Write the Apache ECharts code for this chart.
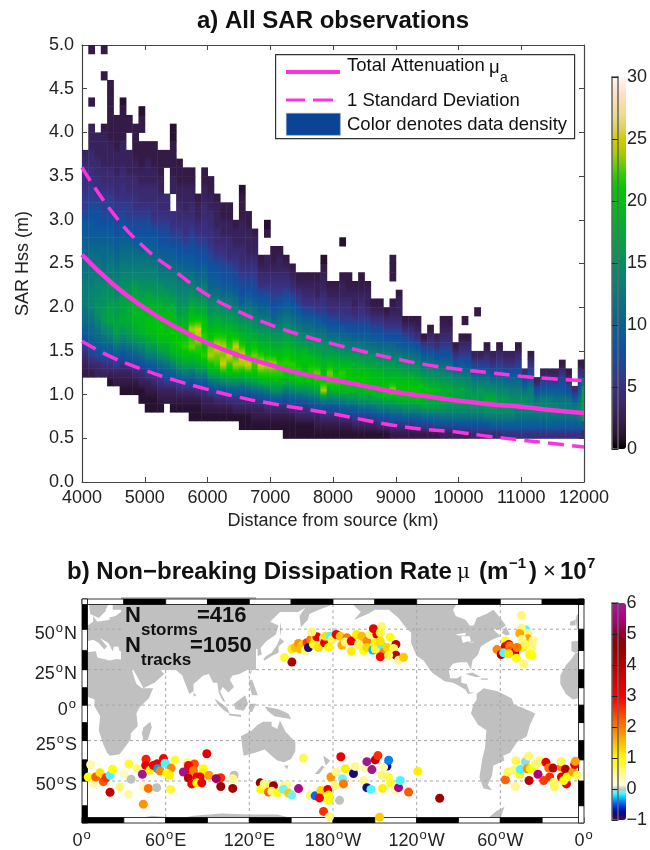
<!DOCTYPE html>
<html><head><meta charset="utf-8">
<style>html,body{margin:0;padding:0;background:#fff}#c{width:650px;height:850px}</style>
<script src="https://cdn.jsdelivr.net/npm/echarts@6/dist/echarts.min.js"></script>
</head><body><div id="c"></div>
<script>
// ---------- panel a data ----------
const curveDistance=[4000,4500,5000,5500,6000,6500,7000,7500,8000,8500,9000,9500,10000,10500,11000,11500,12000];
const muTotal=[2.6,2.26,1.99,1.77,1.59,1.45,1.34,1.24,1.17,1.1,1.03,.98,.93,.89,.86,.82,.79];
const muUpper=[3.6,3.07,2.68,2.4,2.14,1.95,1.8,1.68,1.58,1.49,1.41,1.34,1.29,1.25,1.21,1.18,1.16];
const muLower=[1.61,1.42,1.28,1.16,1.06,.97,.9,.84,.78,.71,.645,.6,.57,.52,.48,.44,.40];
// density by distance column (100 km bins from 4000): [bottom row in 0.1 m, values upward]
const densityColumns=[
[12,2,3,4,6,8,10,11,12,13,13,13,12,12,11,10,10,9,9,7,6,6,5,5,5,4,3],
[12,2,4,6,8,10,11,12,13,14,14,13,13,12,12,11,10,9,9,8,7,6,6,5,5,4,4,3,3,3,2,2,2],
[12,3,4,7,9,11,12,14,15,15,14,14,13,13,12,11,10,9,8,8,7,6,5,5,4,4,3,3,3,2,2,2,2,2,2],
[12,3,5,8,10,12,14,16,16,15,15,14,13,12,11,11,10,9,8,7,6,6,5,4,4,3,3,3,3,2,2,2,2,2,2,2],
[11,1,3,5,8,10,13,15,17,17,16,15,15,13,13,12,11,10,9,8,7,6,6,5,4,4,3,3,3,2,2,2,2,2,2,2],
[11,2,3,6,9,12,15,17,17,16,16,14,14,13,12,11,10,9,8,7,6,6,5,4,4,3,3,3,2,2,2,2],
[10,1,2,3,5,8,11,14,16,18,17,17,16,15,14,13,12,11,10,9,8,7,6,5,5,4,4,3,3,3,2,2,2,2,1],
[10,1,2,3,6,9,12,15,17,18,18,17,16,15,14,13,12,11,10,8,7,6,6,5,4,4,3,3,3,2,2,2,2],
[10,1,2,4,7,10,13,16,18,19,19,18,17,16,14,13,12,11,9,8,7,6,5,5,4,4,3,3,2,2,2,2],
[9,1,1,3,4,8,11,14,17,19,19,19,18,16,15,14,13,12,10,9,8,7,6,5,4,4,3,3,2,2,2],
[8,1,1,2,3,6,9,13,16,18,20,20,19,18,17,15,14,13,12,11,9,8,7,6,5,4,4,3,3,3,2,2],
[8,1,1,2,4,6,10,13,16,19,20,20,19,18,16,15,14,13,11,10,9,8,6,5,5,4,4,3,3,2,2,2],
[8,1,2,3,5,8,11,15,18,20,21,20,19,18,16,15,13,12,11,9,8,7,6,5,4,4,3,3,2,2,2],
[9,2,3,6,9,12,16,18,20,20,20,19,17,16,14,13,12,10,9,8,7,6,5,4,4,3,3,2,2,2],
[8,1,2,3,6,10,14,18,20,21,21,20,19,17,15,14,13,11,10,9,7,6,5,5,4,3,3,3,2,2],
[8,1,2,4,7,12,16,19,21,21,20,18,16,15,14,13,12,11,9,8,7,6,5,4,4,3,3,2,2,2],
[8,1,2,4,8,13,17,20,22,21,20,18,17,15,14,13,12,10,9,8,6,5,5,4,3,3,3,2,2],
[7,1,1,2,4,8,12,17,20,23,22,24,21,19,17,15,13,12,10,9,8,7,6,5,4,4,3,3,2,2],
[7,1,1,2,5,9,14,18,21,22,24,25,21,18,16,14,12,11,9,8,7,6,5,4,3,3,2],
[7,1,2,3,5,9,14,19,22,21,22,21,20,18,16,14,13,11,10,8,7,6,5,5,4,4,3,3,2,2],
[7,1,2,3,7,12,18,21,24,23,21,19,17,15,14,12,10,9,8,7,6,5,5,4,4,3,3,2,2],
[7,1,2,4,8,13,18,22,23,25,22,20,18,16,14,12,10,9,8,6,5,4,4,3,3,3,2],
[7,1,2,4,8,14,20,25,23,24,22,19,17,15,13,11,9,8,7,6,5,4,3,3,2,2],
[7,1,2,5,9,15,20,22,25,22,21,19,17,15,13,11,9,8,7,5,4,4,3,3,2,2],
[7,1,3,5,10,15,21,24,22,25,21,18,16,14,12,10,8,7,6,5,4,3,3,2],
[6,1,1,3,5,9,15,20,24,25,22,19,17,15,13,10,8,7,6,5,4,4,3,3,3,2,2,2,1],
[6,1,1,3,5,10,16,21,25,22,20,18,17,15,13,11,9,7,6,5,4,3,3,3,2,2],
[6,1,2,3,6,11,17,21,22,23,21,18,16,14,12,10,8,7,6,5,4,3,3,2],
[6,1,2,3,7,12,18,22,25,22,19,17,15,13,11,9,7,5,4,3,2],
[6,1,2,4,8,13,19,22,24,21,19,17,15,13,11,9,7,5,4,3,3],
[6,1,2,4,9,15,19,22,24,21,18,16,14,11,9,7,6,5,4,3,2,2],
[6,1,2,4,9,15,19,22,22,20,18,16,14,12,10,8,6,5,4,3,3,2],
[5,1,1,2,4,8,13,18,21,22,21,19,17,15,13,11,9,7,5,4,3,2],
[5,1,1,2,5,9,14,19,21,22,20,18,16,14,12,10,8,6,4,3,2],
[5,1,1,3,5,9,15,20,22,21,19,17,15,13,11,9,6,5,3,2],
[5,1,1,3,5,10,15,20,21,20,20,17,14,12,10,7,5,4,3,2],
[5,1,1,3,6,11,16,20,22,21,19,16,14,12,10,7,5,4,3,2],
[5,1,2,3,7,12,17,21,23,20,18,16,13,11,9,6,5,3,3,2],
[5,1,2,4,8,14,24,21,20,19,17,15,13,11,8,6,5,4,3,3,2],
[5,1,2,4,8,13,18,22,23,20,17,15,12,9,7,5,4,3,2],
[5,1,2,4,8,14,19,22,21,19,17,14,12,9,7,5,4,3,2],
[5,1,2,5,9,14,19,21,22,19,16,14,11,9,6,5,4,3,3,2],
[5,1,2,5,10,15,19,21,21,19,16,13,11,8,6,5,4,3,2,2],
[5,1,3,6,10,15,19,21,20,18,16,13,10,8,6,4,3,3,2],
[5,1,3,6,11,16,19,21,20,18,15,13,10,8,6,5,4,3,2,2],
[5,1,3,6,11,16,20,21,20,17,15,12,10,8,6,4,3,3,2],
[5,1,3,7,12,17,20,20,19,17,14,12,9,7,5,3,2],
[5,1,4,8,13,17,20,20,19,16,14,11,9,7,5,3,2],
[5,1,4,8,13,18,21,20,18,16,14,11,8,6,4,2],
[5,2,5,9,14,18,24,20,18,16,13,11,8,6,4,3,2],
[5,2,5,9,14,19,21,20,18,15,13,10,8,6,4,3,3,2],
[5,2,5,10,15,19,21,20,17,15,12,9,7,4,2],
[5,2,5,10,15,19,21,20,17,14,12,9,6,4,2],
[5,2,6,10,15,20,21,19,16,14,11,8,5,3,2],
[5,2,6,11,16,19,20,18,15,12,9,6,2],
[5,2,6,11,16,18,20,17,15,12,9,6,4,2],
[5,2,7,11,16,18,19,17,14,11,8,5,3],
[5,3,7,12,16,18,18,16,14,11,8,6,4,3,2],
[5,3,7,12,15,17,18,16,13,11,8,6,4,3,2],
[5,3,7,12,15,17,17,15,12,8,5,2],
[5,3,8,12,15,17,17,15,12,9,6,4,2],
[5,3,8,12,15,16,16,14,12,8,6,4,2],
[5,4,8,12,15,17,15,13,9,6,3],
[5,4,8,12,15,16,16,13,9,6,3],
[5,4,8,13,16,18,15,13,10,6,4,2],
[5,4,9,13,16,18,15,12,8,5,3],
[5,4,9,13,15,16,14,12,9,6,4,2],
[5,5,9,13,15,16,14,11,8,5,3],
[5,5,9,13,15,15,13,11,8,5,3],
[5,5,9,12,14,15,13,11,8,6,4,2],
[5,5,9,12,14,15,12,8,4],
[5,5,9,12,14,14,13,10,7,5,2],
[5,5,9,12,14,12,8,3],
[5,5,9,12,14,13,9,6,3],
[5,5,10,12,14,13,9,6,3],
[5,5,9,12,14,12,9,6,3],
[5,5,9,12,13,12,9,7,5,2],
[5,5,9,12,13,12,8,5,2],
[5,5,9,12,13,9,4],
[5,5,10,13,14,12,9,7,5,2]];
const densityHoles=[[4100,41],[4100,42],[4200,40],[4200,41],[4200,42],[4200,43],[4200,44],[4200,45],[4300,41],[4300,42],[4300,43],[4300,44],[4300,45],[4700,38],[4700,39],[5300,33],[5300,34],[5300,35],[5400,31],[5400,32]];
const densityIslands=[[4100,49,2],[4300,49,2],[4900,40,2],[4900,41,2],[4900,42,1],[5400,37,2],[5400,38,2],[5400,39,1],[5400,40,1],[6900,28,2],[6900,29,1],[7800,25,1],[8100,27,1],[8900,23,2],[8900,24,2],[8900,25,2],[10050,18,2],[10250,19,2]];
const edgeColumnX=11960;
const edgeColumn=[5,4,9,16,17,17,16,12,5,2];
const densityTicks=[0,5,10,15,20,25,30];
const densityColors=['#000000','#26122e','#341a46','#38225c','#3a2a70','#38307f','#2e3c90','#1a4a98','#0f50a0','#0c5a9c','#0b6090','#0b6a88','#0a7280','#0a7c78','#088570','#069060','#049a50','#02a440','#00ae30','#00b820','#00c010','#00c800','#28cc00','#70cc00','#b0cc00','#d2cc00','#e0d268','#eedc90','#fadcb0','#ffe4d4','#fff8f4'];
// ---------- panel b data ----------
const dissipationColors=['#4a0a5e','#1e0a70','#0a0a90','#0020d0','#0050f0','#0090ff','#00d8ff','#60ffff','#c0c0c0','#fffde0','#fffbc8','#fff9b0','#fff890','#fff870','#fff840','#fff820','#ffff00','#ffec00','#ffdc00','#ffcc00','#ffbc00','#ffaa00','#ff9a00','#ff8800','#ff7800','#ff6c00','#ff5c00','#ff4c00','#ff3a00','#ff2800','#ff1400','#ff0800','#f80000','#f00000','#e80000','#e00000','#d80000','#d00000','#c80000','#c00000','#b80000','#b00000','#a80000','#a00000','#980000','#900000','#8c0010','#8c0020','#900030','#980048','#a00060','#a80070','#b00080','#b00088','#a81088','#a01888','#982090'];
const dissipationTicks=[-1,0,1,2,3,4,5,6];
const gridLons=[60,120,180,240,300];
const gridLats=[50,25,0,-25,-50];
const lonLabels=['0','60|E','120|E','180|W','120|W','60|W','0'];
const latLabels=[[50,'50','N'],[25,'25','N'],[0,'0',''],[-25,'25','S'],[-50,'50','S']];
const lonFrame=[0,30,60,90,120,150,180,210,240,270,300,330,360];
const latFrame=[-70,-62.5,-50,-37.5,-25,-12.5,0,12.5,25,37.5,50,62.5,65];
const dotsSouth=[[6.2,-40.6,.4],[4.5,-47.8,1],[8.1,-51.6,.4],[9.8,-47.8,2.2],[12.9,-45.3,1.2],[15.3,-50.3,2.3],[17.2,-48.2,2.6],[20.1,-46.8,-.15],[22,-43.3,1],[20.1,-56,3.8],[27.3,-53.2,.6],[30.1,-45.8,.3],[33.7,-40.1,.8],[35.2,-49.1,0],[33.3,-57,.4],[39.7,-43,.6],[43.3,-46.2,5.9],[45.9,-37.2,2.7],[45.7,-41,3.3],[48.8,-43.9,1.1],[44,-53,.3],[47.6,-54,2.1],[53.6,-53.6,0],[44,-61.8,1.8],[51.2,-41,3.2],[54,-40,3.1],[58.4,-36.8,3],[54.3,-43,-.35],[56,-44.3,1.9],[59.6,-39.7,-.15],[63.9,-42.6,1.9],[66.7,-37.6,.8],[60.8,-45.8,1],[62.7,-46.8,1.1],[63.6,-54.5,.8],[75.6,-39.1,.5],[80.6,-40.1,2.4],[76.3,-41,3],[76.3,-43.3,3.2],[72.7,-44.9,5.8],[79.9,-44,2],[76.3,-48.3,3.9],[89.5,-33.7,3.3],[87.1,-43,1],[86.6,-45.5,1.1],[82.3,-47.8,3],[84.7,-47.8,3.1],[78.7,-51.6,3],[82.3,-51,1],[85.9,-51,3.2],[91.1,-46.8,1.7],[99.5,-48.2,2.6],[96.2,-48.7,5.3],[99.5,-53,4.3],[108.1,-54,4.3],[109.1,-46.8,0],[108.1,-48.7,.5],[127.8,-51,4.6],[128.2,-54.5,1],[130.6,-51.6,.5],[134.4,-53,.7],[133.7,-55.9,2.2],[137.3,-52.6,4.4],[136.1,-55.5,.6],[140.2,-56.4,.9],[145,-52.6,.5],[146.9,-52.2,.5],[144.5,-54.5,-.1],[148.1,-56.4,1.4],[150.5,-57.4,-.1],[155.3,-54.1,5.7],[158.9,-36.6,.7],[163.6,-57.6,.6],[167.2,-57.8,-.45],[171.3,-55.1,1.3],[170.3,-58.8,3],[176.3,-54.5,3.3],[176.8,-57.4,1],[176.8,-60,1],[173.2,-65.1,2.6],[177.5,-67.4,.6],[178.5,-47.8,1.8],[181.6,-52.6,.6],[182.3,-44.9,.5],[185.6,-35.6,3.2],[188.8,-43,1.1],[194.7,-45.8,-.85],[195.9,-41.6,.5],[186.8,-48.7,-.1],[187.5,-51.6,2],[184.7,-60,0],
[202,-49.7,.5],[203.1,-42.6,.4],[204.3,-38.7,5.9],[207.9,-43.5,5.9],[210.3,-37.6,3.8],[212.2,-34.9,2.6],[204.3,-53.6,-.8],[207.2,-54.5,-.15],[215.5,-54,1.1],[215.1,-46.8,.6],[218.7,-41.4,-.8],[216.3,-42,.4],[219.9,-37.8,-.4],[219.9,-47.8,.7],[221.1,-51,.8],[224.6,-55,.4],[227,-53.6,5.5],[228.2,-49.7,-.15],[234.2,-55.9,2.3],[240.9,-44.5,1.1],[213.4,-67.6,1.4],[256.5,-59,4.4],[303.6,-49.3,2.2],[305.5,-44.9,.7],[309.6,-43.9,.6],[310.8,-53,.5],[311.2,-38.1,.7],[313.9,-46.2,.9],[314.4,-43.3,-.15],[318,-38.7,-.05],[320.3,-35.2,.6],[319.2,-43,1.8],[320.6,-49.7,3.9],[321.5,-43,1.1],[323.9,-42.6,1],[325.1,-40.1,.6],[328.2,-38.1,.6],[332.7,-39.1,3.2],[327,-46.2,5.5],[331.1,-49.7,2.5],[335.4,-47.8,2.6],[334.7,-42.6,2.1],[337.8,-42.6,3.9],[343.8,-42,2],[343.6,-38.7,.7],[346.7,-43.3,4.2],[338.3,-50.7,.6],[338.8,-53,.7],[343.8,-47.8,3.2],[347.4,-51.6,3.3],[347.9,-47.8,1],[345.5,-49.7,1],[352,-44.9,1.7],[353.3,-40.4,3],[353.8,-38.5,1.7],[355,-46.8,.7]];
const dotsNorthAtlantic=[[315.1,57.2,.6],[318.4,49.5,-.15],[315.1,50.5,.6],[319.6,47.6,.6],[313.9,47.6,1.6],[319.8,44.5,1.7],[323.5,43.5,.5],[315.5,44.1,.5],[303.6,43.2,1],[306,41.2,3.7],[303.6,39.9,3.2],[306.7,40.3,2],[297.6,38,1.9],[300.6,34.9,4],[302.4,36,-.15],[307.2,37,2.3],[310.3,36.4,3.3],[316,39.3,1.1],[322.7,39.3,.6],[312,39.3,2],[318,41.2,.7],[322.7,34.5,1],[321,34.9,1],[311.5,32.6,1],[316.7,28.7,.6],[306,35.4,1.2]];
const dotsNorthPacific=[[150.5,30.1,4.2],[145.2,33,.8],[150.5,38.4,1.1],[152.9,39.3,1.5],[155.3,41.8,1.8],[157.2,40.3,1.5],[158.8,41.2,1.3],[156.5,38.4,1.5],[160,37.4,.6],[161.3,42.2,2.5],[162.4,39.3,-.85],[164.1,44.1,2],[166,41.2,1],[167.2,44.1,.9],[168.4,45.7,3.2],[169.6,39.3,1.2],[164.8,48.4,.6],[173.2,45,.5],[173.9,42.2,3.3],[174.6,46,1.2],[178,46,-.15],[179.2,43.8,.7],[176.8,39.3,1],[182.3,47,3.1],[185.2,46,1.4],[186.4,40.7,1.6],[190,45.1,2],[188.8,42.6,.6],[193.1,43.2,3.2],[196.9,47,1.1],[193.1,37,1.1],[198.3,41.2,.7],[200.7,46,1.5],[201.9,37.4,1],[204.3,43.2,1.9],[204.3,39.3,1.3],[206.7,47,.6],[209,50.3,3.2],[211.5,47,3.3],[215,51.5,.6],[213.9,48,.8],[210.3,42.2,1.1],[208.6,37.8,-.3],[210.3,38.4,.8],[215,40.7,-.15],[213.9,43.2,1.2],[216.3,36.4,1.9],[213.9,33.5,2.9],[218.7,39.3,1.3],[221,45.5,1],[225.1,41.2,3.9],[223.5,38.7,.7],[225.1,34.5,4],[219.9,34.5,.7],[227.1,31.2,.5],[230.6,33.2,1.4]];
const landPolygons=[
[[-17,15],[-17,21],[-13,28],[-9,32],[-6,36],[0,36],[10,37],[11,33],[20,31],[25,32],[33,31],[35,28],[37,21],[39,15],[43,12],[51,12],[48,5],[41,-2],[39,-6],[40,-15],[35,-20],[35,-24],[32,-28],[27,-34],[20,-35],[18,-33],[15,-27],[12,-18],[13,-8],[9,-1],[9,4],[4,6],[-4,5],[-8,4],[-13,8]],
[[44,-16],[49,-12],[50,-16],[47,-25],[44,-25],[43,-20]],
[[-9,37],[-9,43],[-2,43.5],[-1,46],[-4,48],[2,51],[8,54],[8,57],[11,54],[20,55],[18,60],[12,56],[6,58],[5,62],[12,66],[40,66],[60,70],[180,70],[180,65],[178,62],[170,60],[163,58],[162,55],[157,51],[156,57],[160,61],[155,59],[142,59],[135,54],[141,52],[139,47],[132,43],[128,39],[129,35],[126,34],[126,38],[122,40],[118,39],[122,37],[120,34],[122,30],[119,25],[113,22],[108,21],[106,18],[109,13],[105,9],[101,13],[99,10],[103,2],[101,3],[98,9],[97,16],[94,16],[91,22],[87,21],[80,15],[80,10],[77,8],[73,18],[72,21],[67,25],[57,25],[56,27],[50,30],[48,30],[51,25],[56,25],[59,22],[52,16],[44,12],[42,16],[35,28],[35,36],[27,37],[26,40],[23,40],[22,37],[19,42],[13,45],[18,40],[16,38],[12,42],[8,44],[3,43],[0,39],[-2,37],[-6,36]],
[[-5,50],[1,51],[-2,56],[-5,58],[-6,55]],[[-10,52],[-6,52],[-6,55],[-10,54]],[[80,9],[82,7],[80,6]],
[[95,5],[104,-2],[106,-6],[102,-4],[97,1]],[[105,-6],[114,-7],[114,-8.5],[106,-7.5]],[[109,1],[117,7],[119,1],[116,-4],[110,-3]],[[120,1],[125,1],[122,-5],[120,-5]],[[131,-1],[141,-3],[148,-6],[150,-10],[143,-9],[138,-8],[133,-4]],[[120,18],[122,18],[124,13],[126,7],[122,7],[120,14]],[[120,23],[122,25],[121,22]],[[130,32],[132,34],[136,36],[140,41],[142,45],[145,43],[141,40],[141,36],[136,34],[131,31]],[[142,54],[143,50],[142,46]],
[[114,-22],[122,-18],[126,-14],[130,-12],[136,-12],[136,-15],[140,-17],[142,-11],[146,-19],[153,-26],[153,-32],[150,-37],[145,-39],[140,-38],[136,-35],[131,-31],[124,-33],[116,-35],[115,-30]],[[145,-41],[148,-41],[147,-43.5]],[[173,-35],[178,-38],[175,-41],[174,-39]],[[172,-41],[174,-42],[170,-46],[167,-46]],
[[-180,-78],[-150,-77],[-130,-74],[-100,-73],[-75,-71],[-63,-65],[-57,-63],[-60,-68],[-60,-75],[-40,-78],[-20,-72],[0,-70],[30,-69.5],[50,-67],[70,-68],[80,-67],[100,-66],[120,-66.5],[140,-66.5],[165,-70],[170,-72],[180,-78],[180,-90],[-180,-90]],
[[-170,66],[-165,62],[-160,59],[-165,55],[-155,58],[-150,60],[-140,60],[-133,56],[-128,51],[-124,48],[-124,42],[-120,34],[-115,31],[-112,27],[-109,23],[-106,21],[-100,17],[-94,16],[-90,14],[-85,11],[-83,8],[-78,9],[-82,9],[-84,15],[-88,16],[-88,21],[-91,19],[-96,19],[-97,25],[-94,29],[-89,30],[-84,30],[-81,25],[-80,31],[-76,35],[-74,40],[-70,42],[-66,44],[-60,46],[-65,50],[-60,50],[-56,52],[-60,56],[-65,60],[-70,58],[-77,56],[-79,52],[-82,52],[-85,55],[-92,57],[-94,60],[-88,66]],
[[-85,22],[-80,23],[-74,20],[-78,20]],[[-74,19],[-69,19],[-69,18],[-74,18]],[[-59,48],[-56,51.5],[-53,47],[-56,46.5]],
[[-77,8],[-72,12],[-62,10],[-52,5],[-50,0],[-44,-2],[-35,-6],[-39,-15],[-41,-22],[-48,-26],[-53,-33],[-58,-35],[-57,-38],[-65,-41],[-66,-47],[-69,-52],[-66,-55],[-72,-54],[-75,-48],[-73,-37],[-71,-30],[-70,-18],[-76,-14],[-81,-6],[-80,-2],[-79,1],[-77,4]]];
const inlandSeas=[[[18,56],[24,57],[30,60],[22,60],[22,64],[20,64],[17,60]],[[-92,47],[-85,48],[-85,46.5],[-90,46.5]],[[-88,46],[-82,46],[-81,43],[-84,43],[-87,42]],[[-83,42],[-79,43],[-79,42.5]]];

// ---------- helpers ----------
const miller=lat=>1.25*Math.log(Math.tan(Math.PI/4+0.4*lat*Math.PI/180));
const FONT='"Liberation Sans",Arial,sans-serif';
const INK='#222';
const AXIS='#444';
const LAND='#c0c0c0';
const MAGENTA='#ff33dd';

const key=(x,r)=>x+'_'+r;
const holeSet=new Set(densityHoles.map(h=>key(h[0],h[1])));
const densityCells=[];
densityColumns.forEach((col,i)=>{
  const x=4000+i*100,vals=col.slice(1);
  vals.forEach((v,j)=>{
    const r=col[0]+j;
    if(holeSet.has(key(x,r))) return;
    const below=(j>0&&!holeSet.has(key(x,r-1)))?vals[j-1]:v;
    const above=(j<vals.length-1&&!holeSet.has(key(x,r+1)))?vals[j+1]:v;
    densityCells.push([x,r/10,v,below,above]);
  });
});
densityIslands.forEach(c=>densityCells.push([c[0],c[1]/10,c[2],c[2],c[2]]));
edgeColumn.slice(1).forEach((v,j)=>densityCells.push([edgeColumnX,(edgeColumn[0]+j)/10,v,v,v]));

const hex=c=>[parseInt(c.slice(1,3),16),parseInt(c.slice(3,5),16),parseInt(c.slice(5,7),16)];
const densityRgb=densityColors.map(hex);
const densityColor=v=>{const i=Math.min(29,Math.floor(v)),t=v-i,a=densityRgb[i],b=densityRgb[i+1];
  return 'rgb('+a.map((c,k)=>Math.round(c+(b[k]-c)*t)).join(',')+')';};

const allDots=dotsSouth.concat(dotsNorthAtlantic,dotsNorthPacific).map(d=>[d[0],miller(d[1]),d[2]]);
const polys=[];
landPolygons.forEach(p=>{polys.push({p,off:0,fill:LAND});polys.push({p,off:360,fill:LAND});});
inlandSeas.forEach(p=>{polys.push({p,off:0,fill:'#fff'});polys.push({p,off:360,fill:'#fff'});});

const gridSegments=gridLons.map(l=>[l,miller(-70),l,miller(65)]).concat(gridLats.map(l=>[0,miller(l),360,miller(l)]));
const frameSegs=[];
lonFrame.slice(0,-1).forEach((a,i)=>{frameSegs.push(['b',a,lonFrame[i+1],i%2===0]);frameSegs.push(['t',a,lonFrame[i+1],i%2===1]);});
latFrame.slice(0,-1).forEach((a,i)=>{frameSegs.push(['l',a,latFrame[i+1],i%2===0]);frameSegs.push(['r',a,latFrame[i+1],i%2===1]);});

const supRich={a:{fontSize:18,fontFamily:FONT,color:INK,verticalAlign:'bottom',lineHeight:21},o:{fontSize:13,fontFamily:FONT,color:INK,verticalAlign:'top',lineHeight:21,padding:[0,1,6,1]}};
const commonX={axisTick:{show:false},axisLabel:{show:false},splitLine:{show:false}};

const axisBase=(extra)=>Object.assign({type:'value',axisLine:{onZero:false,lineStyle:{color:AXIS,width:1.2}},splitLine:{show:false},axisTick:{inside:true,length:5,lineStyle:{color:AXIS}},axisLabel:{color:INK,fontFamily:FONT,fontSize:18,margin:7},nameTextStyle:{color:INK,fontFamily:FONT,fontSize:18}},extra);
const barLine={onZero:false,lineStyle:{color:'#666',width:1.5}};
const barTick={inside:true,length:3,lineStyle:{color:'#222'}};

const text=(left,top,t,size,weight)=>({type:'text',left,top,z:6,style:{text:t,fontFamily:FONT,fontSize:size,fontWeight:weight||'normal',fill:'#111'}});

const chart=echarts.init(document.getElementById('c'),null,{width:650,height:850});
chart.setOption({
  animation:false,backgroundColor:'#fff',
  grid:[
    {left:82,top:45,width:502,height:437},
    {left:612,top:77,width:14,height:372},
    {left:82,top:599,width:502,height:225},
    {left:612,top:603,width:14,height:217}
  ],
  xAxis:[
    axisBase({gridIndex:0,position:'bottom',min:4000,max:12000,interval:1000,name:'Distance from source (km)',nameLocation:'middle',nameGap:29,axisLabel:{color:INK,fontFamily:FONT,fontSize:18,margin:7,formatter:v=>String(v)}}),
    axisBase({gridIndex:0,position:'top',min:4000,max:12000,interval:1000,axisLabel:{show:false}}),
    axisBase(Object.assign({gridIndex:1,position:'bottom',min:0,max:1,z:6},commonX,{axisLine:barLine})),
    axisBase({gridIndex:2,position:'bottom',min:0,max:360,interval:60,axisLine:{show:false},axisTick:{show:false},
      axisLabel:{margin:6,showMinLabel:true,showMaxLabel:true,rich:supRich,formatter:v=>{const p=lonLabels[v/60].split('|');return '{a|'+p[0]+'}{o|o}'+(p[1]?'{a|'+p[1]+'}':'');}}}),
    axisBase(Object.assign({gridIndex:3,position:'bottom',min:0,max:1,z:6},commonX,{axisLine:barLine})),
    axisBase(Object.assign({gridIndex:1,position:'top',min:0,max:1,z:6},commonX,{axisLine:barLine})),
    axisBase(Object.assign({gridIndex:3,position:'top',min:0,max:1,z:6},commonX,{axisLine:barLine}))
  ],
  yAxis:[
    axisBase({gridIndex:0,position:'left',min:0,max:5,interval:.5,name:'SAR Hss (m)',nameLocation:'middle',nameGap:50,axisLabel:{formatter:v=>v.toFixed(1),color:INK,fontFamily:FONT,fontSize:18,margin:8}}),
    axisBase({gridIndex:0,position:'right',min:0,max:5,interval:.5,axisLabel:{show:false}}),
    axisBase({gridIndex:1,position:'right',min:0,max:30,interval:5,z:6,axisTick:barTick,axisLine:barLine,axisLabel:{margin:9,color:INK,fontFamily:FONT,fontSize:18}}),
    axisBase({gridIndex:1,position:'left',min:0,max:30,interval:5,z:6,axisTick:barTick,axisLine:barLine,axisLabel:{show:false}}),
    axisBase({gridIndex:2,position:'left',min:miller(-70),max:miller(65),axisLine:{show:false},axisTick:{show:false},
      axisLabel:{margin:5,padding:[6,0,0,0],customValues:latLabels.map(l=>miller(l[0])),rich:supRich,formatter:v=>{const l=latLabels.find(q=>Math.abs(miller(q[0])-v)<1e-6);return l?'{a|'+l[1]+'}{o|o}'+(l[2]?'{a|'+l[2]+'}':''):'';}}}),
    axisBase({gridIndex:3,position:'right',min:-1,max:6,interval:1,z:6,axisTick:barTick,axisLine:barLine,axisLabel:{margin:9,color:INK,fontFamily:FONT,fontSize:18,formatter:v=>v<0?'\u2212'+(-v):''+v}}),
    axisBase({gridIndex:3,position:'left',min:-1,max:6,interval:1,z:6,axisTick:barTick,axisLine:barLine,axisLabel:{show:false}})
  ],
  visualMap:[
    {type:'continuous',seriesIndex:0,dimension:2,min:0,max:30,left:612,top:77,itemWidth:14,itemHeight:372,padding:0,text:null,showLabel:false,calculable:false,hoverLink:false,realtime:false,inRange:{color:densityColors},textStyle:{color:'rgba(0,0,0,0)'}},
    {type:'continuous',seriesIndex:7,dimension:2,min:-1,max:6,left:612,top:603,itemWidth:14,itemHeight:217,padding:0,text:null,showLabel:false,calculable:false,hoverLink:false,realtime:false,inRange:{color:dissipationColors},textStyle:{color:'rgba(0,0,0,0)'}}
  ],
  series:[
    {type:'custom',name:'density',xAxisIndex:0,yAxisIndex:0,clip:true,silent:true,z:1,encode:{x:0,y:1},data:densityCells,
      renderItem:(params,api)=>{
        const v=api.value(2),lo=api.value(3),hi=api.value(4);
        const a=api.coord([api.value(0),api.value(1)+.1]),b=api.coord([api.value(0)+100,api.value(1)]);
        return {type:'rect',shape:{x:a[0],y:a[1],width:b[0]-a[0]+.5,height:b[1]-a[1]+.5},
          style:{fill:new echarts.graphic.LinearGradient(0,1,0,0,[{offset:0,color:densityColor((lo+v)/2)},{offset:.5,color:densityColor(v)},{offset:1,color:densityColor((hi+v)/2)}])}};
      }},
    {type:'line',name:'Total Attenuation',xAxisIndex:0,yAxisIndex:0,smooth:true,symbol:'none',z:3,lineStyle:{color:MAGENTA,width:4.5},data:curveDistance.map((x,i)=>[x,muTotal[i]])},
    {type:'line',name:'1 Standard Deviation',xAxisIndex:0,yAxisIndex:0,smooth:true,symbol:'none',z:3,lineStyle:{color:MAGENTA,width:3.5,type:[16,8]},data:curveDistance.map((x,i)=>[x,muUpper[i]])},
    {type:'line',name:'1 Standard Deviation lower',xAxisIndex:0,yAxisIndex:0,smooth:true,symbol:'none',z:3,lineStyle:{color:MAGENTA,width:3.5,type:[16,8]},data:curveDistance.map((x,i)=>[x,muLower[i]])},
    {type:'custom',name:'land',xAxisIndex:3,yAxisIndex:4,clip:true,silent:true,z:1,encode:{x:[],y:[]},data:polys.map((p,i)=>[i]),
      renderItem:(params,api)=>{
        const q=polys[params.dataIndex];
        return {type:'polygon',shape:{points:q.p.map(c=>api.coord([c[0]+q.off,miller(c[1])]))},style:{fill:q.fill}};
      }},
    {type:'custom',name:'graticule',xAxisIndex:3,yAxisIndex:4,clip:true,silent:true,z:1,encode:{x:[],y:[]},data:gridSegments,
      renderItem:(params,api)=>{
        const s=gridSegments[params.dataIndex],a=api.coord([s[0],s[1]]),b=api.coord([s[2],s[3]]);
        return {type:'line',shape:{x1:a[0],y1:a[1],x2:b[0],y2:b[1]},style:{stroke:'#a8a8a8',lineWidth:1,lineDash:[3,3]}};
      }},
    {type:'custom',name:'frame',xAxisIndex:3,yAxisIndex:4,clip:false,silent:true,z:4,encode:{x:[],y:[]},data:frameSegs.map((s,i)=>[i]),
      renderItem:(params,api)=>{
        const s=frameSegs[params.dataIndex];let x,y,w,h;
        const T=5.5;
        if(s[0]==='b'||s[0]==='t'){
          const a=api.coord([s[1],miller(-70)]),b=api.coord([s[2],miller(65)]);
          x=a[0];w=b[0]-a[0];h=T;y=s[0]==='b'?a[1]-T:b[1];
        }else{
          const a=api.coord([0,miller(s[1])]),b=api.coord([360,miller(s[2])]);
          y=b[1];h=a[1]-b[1];w=T;x=s[0]==='l'?a[0]:b[0]-T;
        }
        return {type:'rect',shape:{x,y,width:w,height:h},style:{fill:s[3]?'#000':'#fff',stroke:'#000',lineWidth:.8}};
      }},
    {type:'scatter',name:'dissipation',xAxisIndex:3,yAxisIndex:4,symbolSize:9,z:5,silent:true,itemStyle:{opacity:1},data:allDots}
  ],
  graphic:[
    text(197,9,'a) All SAR observations',24,'bold'),
    {type:'rect',left:275,top:54,z:5,shape:{width:299,height:84},style:{fill:'#fff',stroke:'#333',lineWidth:1.2}},
    {type:'line',z:6,shape:{x1:286,y1:72,x2:340,y2:72},style:{stroke:MAGENTA,lineWidth:4}},
    {type:'line',z:6,shape:{x1:286,y1:100,x2:305,y2:100},style:{stroke:MAGENTA,lineWidth:3}},
    {type:'line',z:6,shape:{x1:313,y1:100,x2:333,y2:100},style:{stroke:MAGENTA,lineWidth:3}},
    {type:'rect',left:286,top:113,z:6,shape:{width:54,height:22},style:{fill:'#0a4595',stroke:'#7f9cc8',lineWidth:.6}},
    text(347,56,'Total Attenuation',18.5),
    text(489,58,'\u03bc',18.5),
    text(500,71,'a',14),
    text(347,91,'1 Standard Deviation',18.5),
    text(347,115,'Color denotes data density',18.5),
    text(67,560,'b) Non\u2212breaking Dissipation Rate',24,'bold'),
    {type:'text',left:457,top:563,z:6,style:{text:'\u03bc',fontFamily:'"DejaVu Serif",serif',fontSize:20,fill:'#111'}},
    text(479,560,'(m',24,'bold'),
    text(509,556,'\u22121',15,'bold'),
    text(529,560,')',24,'bold'),
    text(543,561,'\u00d7',22),
    text(560,560,'10',24,'bold'),
    text(587,556,'7',15,'bold'),
    {type:'rect',left:121,top:597,z:3,shape:{width:135,height:73},style:{fill:LAND}},
    text(125,605,'N',22,'bold'),
    text(141,622,'storms',17,'bold'),
    text(197,605,'=416',22,'bold'),
    text(125,635,'N',22,'bold'),
    text(141,652,'tracks',17,'bold'),
    text(190,635,'=1050',22,'bold')
  ]
});
</script></body></html>
